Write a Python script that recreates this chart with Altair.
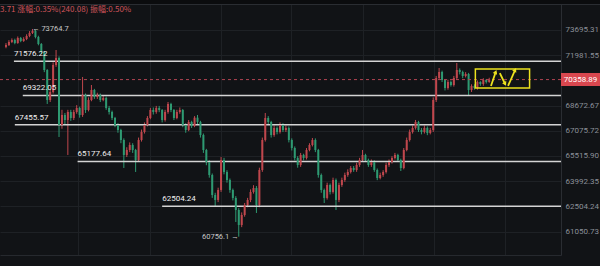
import altair as alt
import pandas as pd

# ---------------- data ----------------
first_open = 72540
close = [
    72670, 72874, 73010, 72806, 73147, 72942, 73078, 73284, 73490, 73627,
    73215, 72738, 72196, 70993, 69031, 69549, 71325, 71794, 67438, 68071,
    67754, 68262, 67881, 68262, 68518, 68071, 69354, 68390, 69031, 69679,
    69225, 69354, 69031, 69160, 68518, 68262, 67881, 67438, 67124, 66500,
    65575, 65882, 66190, 65882, 65269, 66500, 66999, 67438, 67881, 68390,
    68262, 68518, 68390, 67754, 68262, 68774, 68390, 67881, 68262, 68390,
    67438, 67124, 67628, 67375, 67900, 67630, 66811, 65882, 65147, 64361,
    63170, 62876, 63466, 65269, 64542, 64061, 63466, 62994, 62291, 61425,
    62001, 62583, 62876, 63348, 63585, 62583, 64662, 66500, 67881, 67628,
    66811, 67250, 66999, 67438, 67124, 67250, 66500, 66005, 65391, 64965,
    65575, 65391, 65882, 66190, 66500, 65882, 64361, 63466, 62994, 63763,
    63348, 64061, 62876, 63763, 64061, 64361, 64542, 64783, 64662, 64965,
    65269, 65575, 65269, 64965, 65147, 64662, 64181, 64361, 64542, 64965,
    65147, 65391, 65575, 65269, 64783, 65882, 66500, 66999, 67250, 67628,
    67124, 66999, 67250, 66936, 67124, 69031, 70464, 70861, 70333, 69809,
    70202, 70005, 70464, 70993, 70861, 70596, 70728, 69679, 69940, 69809,
    70202, 70071, 70333, 70202, 70358.89,
]
high = [
    72800, 73000, 73120, 73100, 73250, 73220, 73200, 73400, 73620, 73764.7,
    73700, 73300, 72800, 72250, 71050, 69700, 71500, 72331, 71900, 68400,
    68200, 68400, 68400, 68400, 68700, 68600, 70530, 69450, 69200, 70005,
    69750, 69500, 69450, 69300, 69250, 68650, 68350, 67950, 67550, 67200,
    66600, 66050, 66350, 66300, 65950, 66650, 67150, 67600, 68000, 68520,
    68550, 68650, 68650, 68450, 68400, 68903, 68850, 68450, 68400, 68550,
    68450, 67550, 67750, 67700, 68000, 68071, 67700, 66900, 65950, 65250,
    64450, 63300, 63600, 65450, 65400, 64650, 64150, 63550, 63100, 62400,
    62150, 62700, 63000, 63500, 63750, 63700, 64800, 66650, 68199, 68000,
    67700, 67400, 67350, 67600, 67550, 67400, 67350, 66600, 66100, 65500,
    65700, 65650, 66000, 66300, 66624, 66600, 65950, 64450, 63550, 63900,
    63850, 64200, 64150, 63900, 64200, 64500, 64700, 64900, 64900, 65100,
    65400, 65882, 65650, 65350, 65300, 65250, 64750, 64500, 64650, 65100,
    65300, 65500, 65700, 65650, 65350, 66000, 66650, 67150, 67400, 67754,
    67700, 67250, 67400, 67350, 67250, 69200, 70600, 71126, 70950, 70400,
    70350, 70300, 70600, 71459, 71100, 70950, 70850, 70800, 70050, 70050,
    70300, 70250, 70450, 70400, 70480,
]
low = [
    72450, 72600, 72800, 72720, 72750, 72860, 72880, 73000, 73200, 73420,
    73120, 72650, 72050, 70850, 68774, 68900, 69450, 71200, 66686, 67200,
    67500, 65575, 67700, 67750, 68150, 67900, 67950, 68200, 68300, 68950,
    69100, 69100, 68900, 68950, 68400, 68100, 67750, 67300, 66950, 66300,
    64783, 65450, 65750, 65700, 64542, 65150, 66400, 66900, 67350, 67800,
    68100, 68150, 68250, 67600, 67650, 68150, 68250, 67750, 67800, 68150,
    67300, 66950, 67050, 67250, 67300, 67500, 66650, 65700, 64950, 64200,
    63000, 62466, 62750, 63350, 64400, 63900, 63300, 62850, 61597, 60756.1,
    61300, 61900, 62450, 62750, 63250, 62117, 62450, 64550, 66400, 67450,
    66650, 66700, 66850, 66900, 67000, 67000, 66350, 65850, 65250, 64800,
    64850, 65250, 65300, 65800, 66100, 65750, 64200, 63300, 62700, 62900,
    63200, 63250, 62291, 62750, 63650, 63950, 64250, 64450, 64550, 64550,
    64850, 65150, 65150, 64850, 64850, 64550, 64050, 64100, 64250, 64450,
    64850, 65050, 65300, 65150, 64600, 64700, 65800, 66400, 66900, 67150,
    67000, 66850, 66900, 66800, 66850, 67000, 68900, 70350, 70200, 69650,
    69700, 69900, 69900, 70350, 70700, 70450, 70500, 69290, 69550, 69700,
    69700, 69950, 69950, 70100, 70150,
]

levels = [71576.22, 69322.05, 67455.57, 65177.64, 62504.24]
level_start = [2.7, 5.7, 3.0, 24.3, 53.0]
level_text = ["71576.22", "69322.05", "67455.57", "65177.64", "62504.24"]

y_ticks = [73695.31, 71981.55, 68672.67, 67075.72, 65515.90, 63992.35, 62504.24, 61050.73]
x_grid = [24.3, 48.8, 73.0, 96.8, 121.0, 145.2, 169.3]

last_price = 70358.89
high_mark = (8.5, 73764.7, "← 73764.7")
low_mark = (79.3, 60756.1, "60756.1 →")
header = "3.71  涨幅:0.35%(240.08)  振幅:0.50%"

box_i = [159.3, 177.7]
box_p = [71059, 69809]
arrow_id = ["a", "a", "b", "b", "c", "c"]
arrow_i = [164.6, 166.2, 167.6, 169.4, 170.4, 172.8]
arrow_p = [69940, 70860, 70790, 70071, 69940, 71000]
head_i = [166.2, 169.4, 172.8]
head_p = [70860, 70071, 71000]
head_angle = [22, 152, 28]

# ---------------- tables ----------------
opens = [first_open] + close[:-1]
n = len(close)
candles = pd.DataFrame({
    "i": list(range(n)), "open": opens, "close": close, "high": high, "low": low,
    "dir": ["up" if c >= o else "down" for o, c in zip(opens, close)],
})
lv = pd.DataFrame({"p": levels, "s": level_start, "t": level_text})
arrows = pd.DataFrame({"a": arrow_id, "i": arrow_i, "p": arrow_p,
                       "o": list(range(len(arrow_id)))})
heads = pd.DataFrame({"i": head_i, "p": head_p, "ang": head_angle})
box = pd.DataFrame({"i1": [box_i[0]], "i2": [box_i[1]], "p1": [box_p[0]], "p2": [box_p[1]]})
hi_df = pd.DataFrame({"i": [high_mark[0]], "p": [high_mark[1]], "t": [high_mark[2]]})
lo_df = pd.DataFrame({"i": [low_mark[0]], "p": [low_mark[1]], "t": [low_mark[2]]})
last = pd.DataFrame({"p": [last_price], "t": [f"{last_price:.2f}"]})
head_df = pd.DataFrame({"t": [header]})

# ---------------- styling ----------------
BG = "#111316"
GRID = "#1e2125"
RED = "#c0474d"
GREEN = "#2e9a72"
FONT = "Roboto"

xsc = alt.Scale(domain=[-1 / 3, 186.667], nice=False, zero=False)
ysc = alt.Scale(type="log", domain=[59725.6, 75506.7], nice=False, zero=False)

xax = alt.Axis(values=x_grid, labels=False, ticks=False, title=None, grid=True,
               gridColor=GRID, domain=True, domainColor="#26292e")
yax = alt.Axis(orient="right", values=y_ticks, format=".2f", title=None, grid=True,
               gridColor=GRID, ticks=False, domain=True, domainColor="#2a2d32",
               labelColor="#8b9099", labelFontSize=8, labelFont=FONT, labelPadding=4)


def X(field):
    return alt.X(field, scale=xsc, axis=xax)


def Y(field):
    return alt.Y(field, scale=ysc, axis=yax)


color = alt.Color("dir:N", scale=alt.Scale(domain=["up", "down"], range=[RED, GREEN]), legend=None)

wicks = alt.Chart(candles).mark_rule(strokeWidth=1).encode(
    x=X("i:Q"), y=Y("low:Q"), y2="high:Q", color=color)
bodies = alt.Chart(candles).mark_bar(size=2).encode(
    x=X("i:Q"), y=Y("open:Q"), y2="close:Q", color=color)

level_rules = alt.Chart(lv).mark_rule(color="#d4d4d4", strokeWidth=1.5).encode(
    x=X("s:Q"), x2=alt.value(561), y=Y("p:Q"))
level_labels = alt.Chart(lv).mark_text(
    align="left", baseline="alphabetic", dy=-5, color="#f0f0f0", fontSize=8, font=FONT
).encode(x=X("s:Q"), y=Y("p:Q"), text="t:N")

last_line = alt.Chart(last).mark_rule(color="#b04452", strokeWidth=1, strokeDash=[3, 3]).encode(
    x=alt.value(0), x2=alt.value(561), y=Y("p:Q"))
last_tag = alt.Chart(last).mark_rule(color="#d9474f", strokeWidth=13).encode(
    x=alt.value(561), x2=alt.value(600), y=Y("p:Q"))
last_text = alt.Chart(last).mark_text(
    align="center", baseline="middle", color="#ffffff", fontSize=8, font=FONT
).encode(x=alt.value(580.5), y=Y("p:Q"), text="t:N")

hi_txt = alt.Chart(hi_df).mark_text(
    align="left", baseline="middle", dx=1, color="#c8c8c8", fontSize=7.5, font=FONT
).encode(x=X("i:Q"), y=Y("p:Q"), text="t:N")
lo_txt = alt.Chart(lo_df).mark_text(
    align="right", baseline="middle", dx=-1, color="#c8c8c8", fontSize=7.5, font=FONT
).encode(x=X("i:Q"), y=Y("p:Q"), text="t:N")

box_mark = alt.Chart(box).mark_rect(fill=None, stroke="#ece21e", strokeWidth=1.5).encode(
    x=X("i1:Q"), x2="i2:Q", y=Y("p1:Q"), y2="p2:Q")
arrow_lines = alt.Chart(arrows).mark_line(color="#ece21e", strokeWidth=1.8).encode(
    x=X("i:Q"), y=Y("p:Q"), detail="a:N", order="o:Q")
arrow_heads = alt.Chart(heads).mark_point(shape="triangle-up", filled=True, size=22,
                                          color="#ece21e", opacity=1).encode(
    x=X("i:Q"), y=Y("p:Q"), angle=alt.Angle("ang:Q", scale=None))

top_strip = alt.Chart(head_df).mark_rect(color="#0b0c0e").encode(
    x=alt.value(0), x2=alt.value(600), y=alt.value(-4), y2=alt.value(0))
top_line = alt.Chart(head_df).mark_rule(color="#2a2d32", strokeWidth=1).encode(
    x=alt.value(0), x2=alt.value(600), y=alt.value(0.5))
head_text = alt.Chart(head_df).mark_text(
    align="left", baseline="middle", color="#d0545a", fontSize=8, font="Noto Sans CJK SC"
).encode(x=alt.value(0), y=alt.value(6), text="t:N")

chart = alt.layer(
    wicks, level_rules, bodies, last_line, level_labels, hi_txt, lo_txt,
    box_mark, arrow_lines, arrow_heads, last_tag, last_text, top_strip, top_line, head_text,
).properties(
    width=561, height=251, autosize="none",
    padding={"left": 0, "top": 4, "right": 39, "bottom": 11},
    background=BG,
).configure_view(stroke=None)

chart.save("out.html", embed_options={"renderer": "svg", "actions": False})
